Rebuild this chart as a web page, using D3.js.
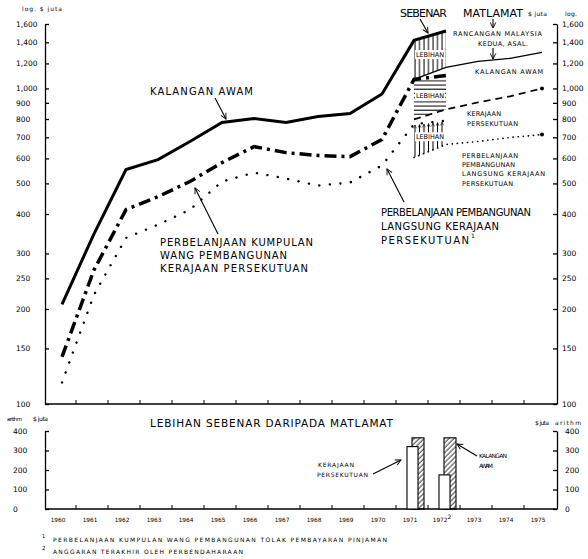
<!DOCTYPE html>
<html><head><meta charset="utf-8">
<script src="https://cdn.jsdelivr.net/npm/d3@7"></script>
<style>
body{margin:0;background:#fff;}
svg{display:block;font-family:"DejaVu Sans",sans-serif;}
</style></head><body>
<svg id="c" width="588" height="559"></svg>
<script>
// ---------- data ----------
const years = [1960,1961,1962,1963,1964,1965,1966,1967,1968,1969,1970,1971,1972,1973,1974,1975];
const actualYears = [1960,1961,1962,1963,1964,1965,1966,1967,1968,1969,1970,1971,1972];
const targetYears = [1971,1972,1973,1974,1975];
// actual (SEBENAR), $ juta, log scale
const kalanganAwam   = [207,346,553,595,679,780,803,780,815,833,960,1420,1520];
const kumpulanWang   = [141,266,413,454,507,582,654,626,613,608,689,1068,1099];
const langsungKP     = [117,222,336,370,413,507,541,518,492,503,570,770,790];
// targets (MATLAMAT, Rancangan Malaysia Kedua asal)
const targetAwam     = [1068,1166,1218,1245,1301];
const targetKerajaan = [797,858,903,944,1000];
const targetLangsung = [604,664,679,699,714];
// excess over target (arith scale)
const barYears = [1971,1972];
const lebihanAwam     = [365,365];
const lebihanKerajaan = [320,175];
const logTicks = [100,150,200,250,300,400,500,600,700,800,900,1000,1200,1400,1600];
const arithTicks = [0,100,200,300,400];

// ---------- setup ----------
const svg = d3.select("#c");
const defs = svg.append("defs");
const xBand = d3.scaleBand().domain(years).range([46,558]);
const xc = d => xBand(d) + xBand.bandwidth()/2;
const yTop = d3.scaleLog().domain([100,1600]).range([404,24]);
const yBot = d3.scaleLinear().domain([0,400]).range([509,431]);
const L = 45, R = 557;

// markers & patterns
defs.append("marker").attr("id","arr").attr("viewBox","0 0 10 10").attr("refX",9).attr("refY",5)
  .attr("markerWidth",7).attr("markerHeight",7).attr("orient","auto-start-reverse").attr("markerUnits","userSpaceOnUse")
  .append("path").attr("d","M1,1 L9,5 L1,9").attr("fill","none").attr("stroke","#000").attr("stroke-width",1.3);
defs.append("marker").attr("id","arrS").attr("viewBox","0 0 10 10").attr("refX",9).attr("refY",5)
  .attr("markerWidth",4).attr("markerHeight",4).attr("orient","auto").attr("markerUnits","userSpaceOnUse")
  .append("path").attr("d","M1,1 L9,5 L1,9").attr("fill","none").attr("stroke","#000").attr("stroke-width",1.5);
const pv = defs.append("pattern").attr("id","vh").attr("patternUnits","userSpaceOnUse").attr("width",4.5).attr("height",10);
pv.append("line").attr("x1",1).attr("x2",1).attr("y1",0).attr("y2",10).attr("stroke","#000").attr("stroke-width",1);
const ph = defs.append("pattern").attr("id","hh").attr("patternUnits","userSpaceOnUse").attr("width",10).attr("height",4.2);
ph.append("line").attr("x1",0).attr("x2",10).attr("y1",1).attr("y2",1).attr("stroke","#000").attr("stroke-width",1);
const pd = defs.append("pattern").attr("id","dh").attr("patternUnits","userSpaceOnUse").attr("width",3.5).attr("height",3.5).attr("patternTransform","rotate(45)");
pd.append("line").attr("x1",1).attr("x2",1).attr("y1",0).attr("y2",3.5).attr("stroke","#000").attr("stroke-width",0.8);

function label(x,y,t,fs,w,anchor){
  const e = svg.append("text").attr("x",x).attr("y",y).attr("font-size",fs).attr("fill","#000").text(t);
  if(w){ e.attr("textLength",w).attr("lengthAdjust","spacing"); }
  if(anchor) e.attr("text-anchor",anchor);
  return e;
}
function arrow(x1,y1,x2,y2){
  svg.append("line").attr("x1",x1).attr("y1",y1).attr("x2",x2).attr("y2",y2)
    .attr("stroke","#000").attr("stroke-width",1.1).attr("marker-end","url(#arr)");
}

// ---------- top panel axes ----------
const gL = svg.append("g").attr("transform",`translate(${L},0)`)
  .call(d3.axisLeft(yTop).tickValues(logTicks).tickSize(-4).tickSizeOuter(0).tickFormat(d3.format(",")));
gL.selectAll("text").attr("text-anchor","start").attr("x",-29).attr("font-size",7.5).attr("font-family","DejaVu Sans");
const gR = svg.append("g").attr("transform",`translate(${R},0)`)
  .call(d3.axisRight(yTop).tickValues(logTicks).tickSize(-4).tickSizeOuter(0).tickFormat(d3.format(",")));
gR.selectAll("text").attr("text-anchor","start").attr("x",5).attr("font-size",7.5).attr("font-family","DejaVu Sans");
[gL,gR].forEach(g=>{g.selectAll("path,line").attr("stroke","#000").attr("stroke-width",1.3);});
svg.append("line").attr("x1",L).attr("x2",R).attr("y1",yTop(100)).attr("y2",yTop(100)).attr("stroke","#000").attr("stroke-width",1.3);
svg.selectAll(".tt").data(years.slice(1)).enter().append("line")
  .attr("x1",d=>xBand(d)-2).attr("x2",d=>xBand(d)-2).attr("y1",yTop(100)).attr("y2",yTop(100)-4).attr("stroke","#000").attr("stroke-width",1);

label(22,11,"log.  $  juta",6,40);
label(528,16,"$ juta",6,19);
label(565,16,"log.",6,12);

// ---------- hatched excess regions ----------
function region(act, tgt){
  return barYears.map((y,i)=>({year:y, a:act[actualYears.indexOf(y)], t:tgt[targetYears.indexOf(y)]}));
}
const area = d3.area().x(d=>xc(d.year)).y0(d=>yTop(d.t)).y1(d=>yTop(d.a));
const r1 = region(kalanganAwam,targetAwam), r2 = region(kumpulanWang,targetKerajaan), r3 = region(langsungKP,targetLangsung);
svg.append("path").datum(r1).attr("d",area).attr("fill","url(#vh)");
svg.append("path").datum(r2).attr("d",area).attr("fill","url(#hh)");
// region 3: vertical arrows pointing up
{
  const x0 = xc(1971), x1 = xc(1972);
  const ia = d3.scaleLinear().domain([x0,x1]).range([yTop(r3[0].a),yTop(r3[1].a)]);
  const it = d3.scaleLinear().domain([x0,x1]).range([yTop(r3[0].t),yTop(r3[1].t)]);
  const xs = d3.range(x0+1, x1, 4.5);
  svg.selectAll(".r3").data(xs).enter().append("line")
    .attr("x1",d=>d).attr("x2",d=>d).attr("y1",d=>it(d)).attr("y2",d=>ia(d)+1)
    .attr("stroke","#000").attr("stroke-width",1).attr("marker-end","url(#arrS)");
}
[r1,r2,r3].forEach(r=>{
  const cx = (xc(1971)+xc(1972))/2;
  const cy = (yTop(r[0].a)+yTop(r[0].t)+yTop(r[1].a)+yTop(r[1].t))/4;
  svg.append("rect").attr("x",cx-15).attr("y",cy-4.5).attr("width",30).attr("height",9).attr("fill","#fff");
  label(cx-14,cy+2.5,"LEBIHAN",6.5,28);
});

// ---------- lines ----------
const lineA = d3.line().x((d,i)=>xc(actualYears[i])).y(d=>yTop(d));
const lineT = d3.line().x((d,i)=>xc(targetYears[i])).y(d=>yTop(d));
svg.append("path").attr("d",lineA(kalanganAwam)).attr("fill","none").attr("stroke","#000").attr("stroke-width",3);
svg.append("path").attr("d",lineA(kumpulanWang)).attr("fill","none").attr("stroke","#000").attr("stroke-width",3.5)
  .attr("stroke-dasharray","12,5,3,5");
svg.append("path").attr("d",lineA(langsungKP)).attr("fill","none").attr("stroke","#000").attr("stroke-width",2.4)
  .attr("stroke-linecap","round").attr("stroke-dasharray","0.1,10.5");
svg.append("path").attr("d",lineT(targetAwam)).attr("fill","none").attr("stroke","#000").attr("stroke-width",1.4);
svg.append("path").attr("d",lineT(targetKerajaan)).attr("fill","none").attr("stroke","#000").attr("stroke-width",1.7)
  .attr("stroke-dasharray","7,5");
svg.append("path").attr("d",lineT(targetLangsung)).attr("fill","none").attr("stroke","#000").attr("stroke-width",1.7)
  .attr("stroke-linecap","round").attr("stroke-dasharray","0.1,5");
[[targetKerajaan],[targetLangsung]].forEach(([s])=>{
  svg.append("circle").attr("cx",xc(1975)).attr("cy",yTop(s[s.length-1])).attr("r",2).attr("fill","#000");
});

// ---------- top annotations ----------
label(150,95,"KALANGAN  AWAM",10,103);
arrow(215,98,226,119);
label(160,246,"PERBELANJAAN  KUMPULAN",10,153);
label(160,259,"WANG  PEMBANGUNAN",10,127);
label(160,272,"KERAJAAN  PERSEKUTUAN",10,148);
arrow(218,234,195,188);
label(381,216,"PERBELANJAAN  PEMBANGUNAN",10,150);
label(381,230,"LANGSUNG  KERAJAAN",10,118);
label(381,244,"PERSEKUTUAN",10,88);
label(471,238,"1",6);
arrow(404,202,387,169);
label(400,17,"SEBENAR",11,47);
arrow(420,19,428,33);
label(463,17,"MATLAMAT",11,60);
arrow(493,19,493,28);
label(453,36,"RANCANGAN  MALAYSIA",6.5,89);
label(478,46,"KEDUA,  ASAL.",6.5,50);
arrow(493,48,493,59);
label(475,74,"KALANGAN  AWAM",6.5,68);
label(467,116,"KERAJAAN",6.5,34);
label(467,126,"PERSEKUTUAN",6.5,51);
label(462,158,"PERBELANJAAN",6.5,56);
label(462,167,"PEMBANGUNAN",6.5,53);
label(462,176,"LANGSUNG  KERAJAAN",6.5,83);
label(462,186,"PERSEKUTUAN",6.5,51);

// ---------- bottom panel ----------
const gBL = svg.append("g").attr("transform",`translate(${L},0)`)
  .call(d3.axisLeft(yBot).tickValues(arithTicks).tickSize(-4).tickSizeOuter(0));
gBL.selectAll("text").attr("text-anchor","start").attr("x",-32).attr("font-size",7.5).attr("font-family","DejaVu Sans");
const gBR = svg.append("g").attr("transform",`translate(${R},0)`)
  .call(d3.axisRight(yBot).tickValues(arithTicks).tickSize(-4).tickSizeOuter(0));
gBR.selectAll("text").attr("text-anchor","start").attr("x",8).attr("font-size",7.5).attr("font-family","DejaVu Sans");
[gBL,gBR].forEach(g=>{g.selectAll("path,line").attr("stroke","#000").attr("stroke-width",1.3);});
svg.append("line").attr("x1",L).attr("x2",R).attr("y1",yBot(0)).attr("y2",yBot(0)).attr("stroke","#000").attr("stroke-width",1.3);
svg.selectAll(".bt").data(years.slice(1)).enter().append("line")
  .attr("x1",d=>xBand(d)-2).attr("x2",d=>xBand(d)-2).attr("y1",yBot(0)).attr("y2",yBot(0)-4).attr("stroke","#000").attr("stroke-width",1);

// bars
svg.selectAll(".ba").data(barYears).enter().append("rect")
  .attr("x",d=>xc(d)-2).attr("width",12).attr("y",(d,i)=>yBot(lebihanAwam[i])).attr("height",(d,i)=>yBot(0)-yBot(lebihanAwam[i]))
  .attr("fill","url(#dh)").attr("stroke","#000").attr("stroke-width",1.1);
svg.selectAll(".bk").data(barYears).enter().append("rect")
  .attr("x",d=>xc(d)-7).attr("width",11).attr("y",(d,i)=>yBot(lebihanKerajaan[i])).attr("height",(d,i)=>yBot(0)-yBot(lebihanKerajaan[i]))
  .attr("fill","#fff").attr("stroke","#000").attr("stroke-width",1.1);

// year labels
const gX = svg.append("g").attr("transform",`translate(0,${yBot(0)})`)
  .call(d3.axisBottom(xBand).tickSize(0).tickPadding(9));
gX.select(".domain").remove();
gX.selectAll("text").attr("font-size",5.8).attr("font-family","DejaVu Sans").attr("dx",-4);
gX.selectAll(".tick").filter(d=>d===1972).select("text").append("tspan").attr("dy",-3).attr("font-size",6).text("2");

label(150,427,"LEBIHAN  SEBENAR  DARIPADA  MATLAMAT",10.5,243);
label(7,421,"arithm",5.5,15);
label(33,421,"$ juta",6,15);
label(535,425,"$ juta",6,14);
label(555,425,"arithm",6,26);
label(318,467,"KERAJAAN",6,36);
label(317,477,"PERSEKUTUAN",6,51);
arrow(373,474,401,460);
label(479,458,"KALANGAN",6,28);
label(479,468,"AWAM",6,14);
arrow(477,456,457,444);

// footnotes
label(42,538,"1",5);
label(53,542,"PERBELANJAAN  KUMPULAN  WANG  PEMBANGUNAN  TOLAK  PEMBAYARAN  PINJAMAN",6,334);
label(42,550,"2",5.5);
label(53,554,"ANGGARAN  TERAKHIR  OLEH  PERBENDAHARAAN",6,190);
</script></body></html>
